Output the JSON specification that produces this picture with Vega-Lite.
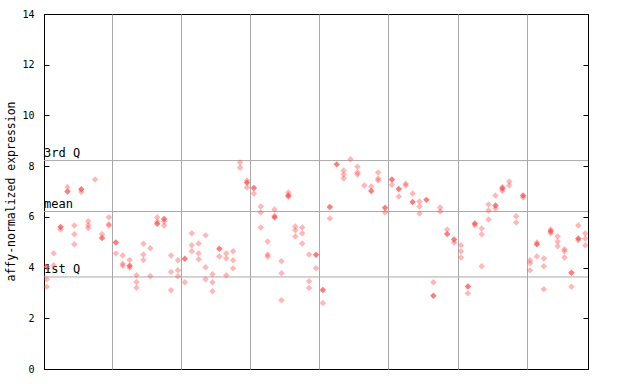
{
  "$schema": "https://vega.github.io/schema/vega-lite/v6.json",
  "autosize": {"type": "none"},
  "width": 544,
  "height": 355,
  "padding": {"left": 44, "top": 14, "right": 52, "bottom": 15},
  "background": "white",
  "config": {
    "view": {"stroke": "black", "strokeWidth": 1},
    "font": "DejaVu Sans Mono"
  },
  "datasets": {
    "stats": [
      {"name": "3rd Q", "v": 8.22},
      {"name": "mean", "v": 6.21},
      {"name": "1st Q", "v": 3.63}
    ],
    "pts": [
      {"s":0,"v":4.03,"k":"s"},{"s":0,"v":3.54,"k":"o"},{"s":0,"v":3.24,"k":"o"},
      {"s":1,"v":4.56,"k":"o"},{"s":1,"v":4.09,"k":"o"},
      {"s":2,"v":5.6,"k":"s"},{"s":2,"v":5.5,"k":"o"},
      {"s":3,"v":7.18,"k":"o"},{"s":3,"v":7.0,"k":"s"},
      {"s":4,"v":5.66,"k":"o"},{"s":4,"v":5.31,"k":"o"},{"s":4,"v":4.92,"k":"o"},
      {"s":5,"v":7.09,"k":"s"},{"s":5,"v":6.98,"k":"o"},
      {"s":6,"v":5.83,"k":"o"},{"s":6,"v":5.67,"k":"o"},{"s":6,"v":5.56,"k":"o"},
      {"s":7,"v":7.47,"k":"o"},
      {"s":8,"v":5.31,"k":"o"},{"s":8,"v":5.17,"k":"s"},
      {"s":9,"v":5.98,"k":"o"},{"s":9,"v":5.71,"k":"o"},{"s":9,"v":5.66,"k":"o"},
      {"s":10,"v":4.99,"k":"s"},{"s":10,"v":4.56,"k":"o"},
      {"s":11,"v":4.48,"k":"o"},{"s":11,"v":4.15,"k":"o"},{"s":11,"v":4.07,"k":"o"},
      {"s":12,"v":4.3,"k":"o"},{"s":12,"v":4.07,"k":"s"},{"s":12,"v":3.99,"k":"o"},
      {"s":13,"v":3.7,"k":"o"},{"s":13,"v":3.43,"k":"o"},{"s":13,"v":3.2,"k":"o"},
      {"s":14,"v":4.94,"k":"o"},{"s":14,"v":4.52,"k":"o"},{"s":14,"v":4.3,"k":"o"},
      {"s":15,"v":4.76,"k":"o"},{"s":15,"v":3.67,"k":"o"},
      {"s":16,"v":5.98,"k":"o"},{"s":16,"v":5.82,"k":"o"},{"s":16,"v":5.73,"k":"s"},
      {"s":17,"v":5.92,"k":"s"},{"s":17,"v":5.82,"k":"o"},{"s":17,"v":5.66,"k":"o"},
      {"s":18,"v":4.48,"k":"o"},{"s":18,"v":3.83,"k":"o"},{"s":18,"v":3.11,"k":"o"},
      {"s":19,"v":4.29,"k":"o"},{"s":19,"v":3.89,"k":"o"},{"s":19,"v":3.66,"k":"o"},
      {"s":20,"v":4.35,"k":"s"},{"s":20,"v":3.42,"k":"o"},
      {"s":21,"v":5.35,"k":"o"},{"s":21,"v":4.88,"k":"o"},{"s":21,"v":4.64,"k":"o"},
      {"s":22,"v":4.95,"k":"o"},{"s":22,"v":4.56,"k":"o"},{"s":22,"v":4.33,"k":"o"},
      {"s":23,"v":5.27,"k":"o"},{"s":23,"v":4.01,"k":"o"},{"s":23,"v":3.54,"k":"o"},
      {"s":24,"v":3.74,"k":"o"},{"s":24,"v":3.42,"k":"o"},{"s":24,"v":3.07,"k":"o"},
      {"s":25,"v":4.74,"k":"s"},{"s":25,"v":4.44,"k":"o"},
      {"s":26,"v":4.56,"k":"o"},{"s":26,"v":4.36,"k":"o"},{"s":26,"v":3.7,"k":"o"},
      {"s":27,"v":4.64,"k":"o"},{"s":27,"v":4.29,"k":"o"},{"s":27,"v":3.97,"k":"o"},
      {"s":28,"v":8.14,"k":"o"},{"s":28,"v":7.94,"k":"o"},
      {"s":29,"v":7.43,"k":"o"},{"s":29,"v":7.35,"k":"s"},{"s":29,"v":7.16,"k":"o"},
      {"s":30,"v":7.14,"k":"s"},{"s":30,"v":6.92,"k":"o"},
      {"s":31,"v":6.41,"k":"o"},{"s":31,"v":6.17,"k":"o"},{"s":31,"v":5.58,"k":"o"},
      {"s":32,"v":5.03,"k":"o"},{"s":32,"v":4.52,"k":"o"},{"s":32,"v":4.44,"k":"o"},
      {"s":33,"v":6.29,"k":"o"},{"s":33,"v":6.03,"k":"o"},{"s":33,"v":5.98,"k":"s"},
      {"s":34,"v":4.25,"k":"o"},{"s":34,"v":3.78,"k":"o"},{"s":34,"v":2.71,"k":"o"},
      {"s":35,"v":6.96,"k":"o"},{"s":35,"v":6.84,"k":"s"},{"s":35,"v":6.79,"k":"o"},
      {"s":36,"v":5.62,"k":"o"},{"s":36,"v":5.47,"k":"o"},{"s":36,"v":5.23,"k":"o"},
      {"s":37,"v":5.58,"k":"o"},{"s":37,"v":5.35,"k":"o"},{"s":37,"v":4.95,"k":"o"},
      {"s":38,"v":4.52,"k":"o"},{"s":38,"v":3.46,"k":"o"},{"s":38,"v":3.19,"k":"o"},
      {"s":39,"v":4.51,"k":"s"},{"s":39,"v":3.97,"k":"o"},
      {"s":40,"v":3.12,"k":"s"},{"s":40,"v":2.6,"k":"o"},
      {"s":41,"v":6.39,"k":"s"},{"s":41,"v":5.94,"k":"o"},
      {"s":42,"v":8.07,"k":"s"},
      {"s":43,"v":7.83,"k":"o"},{"s":43,"v":7.67,"k":"o"},{"s":43,"v":7.51,"k":"o"},
      {"s":44,"v":8.27,"k":"o"},
      {"s":45,"v":7.98,"k":"o"},{"s":45,"v":7.75,"k":"o"},{"s":45,"v":7.67,"k":"o"},
      {"s":46,"v":7.24,"k":"o"},
      {"s":47,"v":7.2,"k":"o"},{"s":47,"v":7.02,"k":"s"},
      {"s":48,"v":7.75,"k":"o"},{"s":48,"v":7.51,"k":"o"},{"s":48,"v":7.43,"k":"o"},
      {"s":49,"v":6.36,"k":"s"},{"s":49,"v":6.17,"k":"o"},
      {"s":50,"v":7.47,"k":"s"},{"s":50,"v":7.27,"k":"o"},
      {"s":51,"v":7.1,"k":"s"},{"s":51,"v":6.8,"k":"o"},
      {"s":52,"v":7.31,"k":"o"},{"s":52,"v":7.24,"k":"o"},
      {"s":53,"v":6.92,"k":"o"},{"s":53,"v":6.59,"k":"s"},
      {"s":54,"v":6.61,"k":"o"},{"s":54,"v":6.41,"k":"o"},{"s":54,"v":6.13,"k":"o"},
      {"s":55,"v":6.67,"k":"s"},
      {"s":56,"v":3.42,"k":"o"},{"s":56,"v":2.89,"k":"s"},
      {"s":57,"v":6.37,"k":"o"},{"s":57,"v":6.21,"k":"o"},
      {"s":58,"v":5.5,"k":"o"},{"s":58,"v":5.32,"k":"s"},
      {"s":59,"v":5.11,"k":"s"},{"s":59,"v":4.99,"k":"o"},
      {"s":60,"v":4.88,"k":"o"},{"s":60,"v":4.64,"k":"o"},{"s":60,"v":4.4,"k":"o"},
      {"s":61,"v":3.25,"k":"s"},{"s":61,"v":2.99,"k":"o"},
      {"s":62,"v":5.74,"k":"s"},{"s":62,"v":5.67,"k":"o"},
      {"s":63,"v":5.54,"k":"o"},{"s":63,"v":5.31,"k":"o"},{"s":63,"v":4.05,"k":"o"},
      {"s":64,"v":6.49,"k":"o"},{"s":64,"v":6.25,"k":"o"},{"s":64,"v":5.9,"k":"o"},
      {"s":65,"v":6.84,"k":"o"},{"s":65,"v":6.45,"k":"s"},{"s":65,"v":6.33,"k":"o"},
      {"s":66,"v":7.18,"k":"o"},{"s":66,"v":7.12,"k":"s"},{"s":66,"v":7.02,"k":"o"},
      {"s":67,"v":7.39,"k":"o"},{"s":67,"v":7.24,"k":"o"},
      {"s":68,"v":6.02,"k":"o"},{"s":68,"v":5.78,"k":"o"},
      {"s":69,"v":6.84,"k":"s"},{"s":69,"v":6.76,"k":"o"},
      {"s":70,"v":4.29,"k":"o"},{"s":70,"v":4.17,"k":"o"},{"s":70,"v":3.89,"k":"o"},
      {"s":71,"v":4.99,"k":"o"},{"s":71,"v":4.92,"k":"s"},{"s":71,"v":4.44,"k":"o"},
      {"s":72,"v":4.36,"k":"o"},{"s":72,"v":4.05,"k":"o"},{"s":72,"v":3.15,"k":"o"},
      {"s":73,"v":5.5,"k":"o"},{"s":73,"v":5.43,"k":"s"},{"s":73,"v":5.35,"k":"o"},
      {"s":74,"v":5.23,"k":"o"},{"s":74,"v":5.03,"k":"o"},{"s":74,"v":4.84,"k":"o"},
      {"s":75,"v":4.72,"k":"o"},{"s":75,"v":4.64,"k":"o"},{"s":75,"v":4.4,"k":"o"},
      {"s":76,"v":3.8,"k":"s"},{"s":76,"v":3.24,"k":"o"},
      {"s":77,"v":5.66,"k":"o"},{"s":77,"v":5.15,"k":"s"},{"s":77,"v":5.08,"k":"o"},
      {"s":78,"v":5.35,"k":"o"},{"s":78,"v":5.15,"k":"o"},{"s":78,"v":4.88,"k":"o"}
    ]
  },
  "layer": [
    {
      "data": {"name": "stats"},
      "mark": {"type": "rule", "color": "#aaaaaa", "strokeWidth": 1},
      "encoding": {
        "y": {
          "field": "v", "type": "quantitative",
          "scale": {"domain": [0, 14], "nice": false, "zero": true},
          "axis": {
            "orient": "right", "values": [0, 2, 4, 6, 8, 10, 12, 14],
            "labels": false, "title": null, "grid": false,
            "domainColor": "black", "tickColor": "black", "tickSize": -5
          }
        }
      }
    },
    {
      "data": {"name": "stats"},
      "mark": {"type": "text", "align": "left", "baseline": "bottom", "dy": -1, "fontSize": 12, "font": "DejaVu Sans Mono", "color": "black"},
      "encoding": {
        "x": {"datum": -0.4, "type": "quantitative"},
        "y": {"field": "v", "type": "quantitative", "axis": null},
        "text": {"field": "name"}
      }
    },
    {
      "data": {"name": "pts"},
      "mark": {"type": "point", "shape": "diamond", "filled": true, "size": 42, "color": "#ff4444"},
      "encoding": {
        "x": {
          "field": "s", "type": "quantitative",
          "scale": {"domain": [-0.4, 78.4], "nice": false, "zero": false},
          "axis": {
            "values": [9.5, 19.5, 29.5, 39.5, 49.5, 59.5, 69.5],
            "grid": true, "gridColor": "#aaaaaa", "gridOpacity": 1,
            "labels": false, "ticks": false, "domain": false, "title": null
          }
        },
        "y": {
          "field": "v", "type": "quantitative",
          "axis": {
            "orient": "left", "values": [0, 2, 4, 6, 8, 10, 12, 14],
            "grid": false, "domainColor": "black", "tickColor": "black",
            "tickSize": -5, "labelPadding": 15, "labelFontSize": 10,
            "labelFont": "DejaVu Sans Mono", "labelColor": "black",
            "title": "affy-normalized expression", "titleFont": "DejaVu Sans Mono",
            "titleFontSize": 11.5, "titleFontWeight": "normal", "titleColor": "black",
            "titleX": -33, "titleY": 177, "titleAngle": -90, "titleBaseline": "middle", "titleAlign": "center"
          }
        },
        "fillOpacity": {
          "field": "k", "type": "nominal",
          "scale": {"domain": ["o", "s"], "range": [0.55, 1]},
          "legend": null
        },
        "order": {"field": "k", "type": "nominal"}
      }
    }
  ],
  "resolve": {"axis": {"y": "independent"}}
}
